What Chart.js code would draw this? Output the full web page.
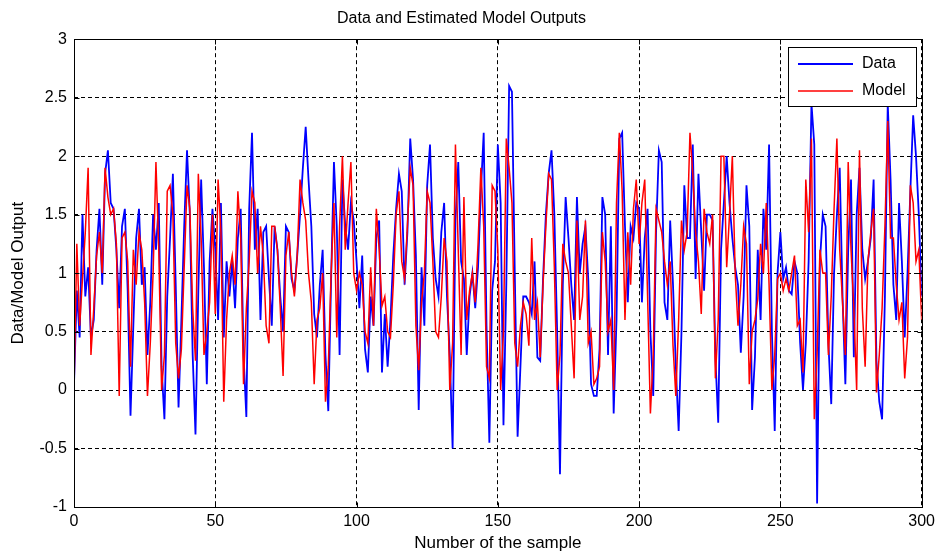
<!DOCTYPE html>
<html>
<head>
<meta charset="utf-8">
<script src="https://cdn.jsdelivr.net/npm/chart.js@4.4.1/dist/chart.umd.min.js"></script>
<style>
  html, body { margin: 0; padding: 0; background: #ffffff; }
  canvas { display: block; }
</style>
</head>
<body>
<canvas id="c" width="940" height="556"></canvas>
<script>
// ---- values (sample 0 .. 300) ----
const dataValues = [
  0.05, 0.85, 0.45, 1.5, 0.8, 1.05, 0.45, 0.6, 1.2, 1.55,
  0.9, 1.85, 2.05, 1.6, 1.55, 1.2, 0.7, 1.4, 1.55, 0.85,
  -0.22, 0.55, 1.3, 1.55, 0.9, 1.05, 0.3, 0.75, 1.5, 1.2,
  1.6, 0.2, -0.25, 0.8, 1.3, 1.85, 0.9, -0.15, 0.6, 1.4,
  2.05, 1.5, 0.3, -0.38, 0.85, 1.8, 1.05, 0.05, 1.1, 1.55,
  1.2, 0.6, 1.6, 0.45, 1.1, 0.8, 1.1, 0.7, 1.3, 1.55,
  0.3, -0.23, 1.55, 2.2, 1.2, 1.55, 0.6, 1.35, 1.4, 0.95,
  0.55, 1.4, 1.2, 0.8, 0.5, 1.4, 1.35, 0.95, 0.85, 1.15,
  1.5, 1.9, 2.25, 1.8, 1.4, 0.65, 0.45, 0.9, 1.2, 0.3,
  -0.18, 0.95, 1.95, 1.4, 0.3, 1.8, 1.4, 1.2, 1.6, 1.45,
  1.1, 0.7, 1.15, 0.35, 0.15, 0.8, 0.55, 1.3, 1.45, 0.15,
  0.65, 0.2, 0.6, 1.15, 1.55, 1.85, 1.7, 0.9, 1.35, 2.15,
  1.8, 1.15, -0.17, 1.05, 0.55, 1.75, 2.1, 1.3, 0.95, 0.8,
  1.35, 1.6, 0.8, 0.3, -0.5, 1.45, 1.95, 1.1, 0.95, 0.3,
  0.8, 1.0, 0.7, 1.05, 1.7, 2.2, 0.55, -0.45, 0.85, 1.1,
  2.1, 1.6, -0.3, 0.9, 2.6, 2.55, 1.0, -0.4, 0.2, 0.8,
  0.8, 0.75, 0.65, 1.1, 0.28, 0.25, 0.95, 1.5, 1.85, 2.05,
  1.5, 0.5, -0.72, 0.9, 1.65, 1.3, 0.9, 0.6, 1.65, 1.0,
  1.25, 1.4, 0.95, 0.05, -0.05, -0.05, 0.35, 1.65, 1.5, 0.3,
  1.4, -0.2, 0.6, 2.15, 2.2, 1.4, 0.75, 1.4, 1.3, 1.6,
  1.55, 0.75, 1.3, 1.55, 0.5, -0.05, 1.35, 2.05, 1.95, 0.75,
  0.6, 1.45, 0.9, 0.2, -0.35, 0.5, 1.75, 1.3, 1.3, 2.1,
  0.95, 1.85, 1.35, 0.85, 1.5, 1.5, 1.45, 0.28, -0.28, 1.2,
  1.6, 2.0, 1.6, 1.3, 1.05, 0.9, 0.32, 0.8, 1.75, 1.4,
  -0.17, 0.28, 1.2, 0.6, 1.55, 1.2, 2.1, 0.5, -0.35, 1.0,
  1.35, 0.95, 1.05, 0.85, 0.82, 1.1, 1.0, 0.4, 0.0, 0.4,
  1.1, 2.45, 2.1, -0.97, 1.1, 1.5, 1.4, 0.4, -0.12, 1.0,
  1.5, 1.9, 0.8, 0.05, 1.2, 1.8, 0.28, 1.5, 1.9, 1.2,
  0.95, 1.1, 1.3, 1.8, 0.25, -0.1, -0.25, 0.8, 2.45, 1.8,
  0.9, 0.6, 1.6, 1.1, 0.45, 1.0, 1.7, 2.35, 2.0, 1.5, 0.8
];
const modelValues = [
  0.0, 1.25, 0.55, 0.95, 1.35, 1.9, 0.3, 0.7, 1.15, 1.35,
  1.0, 1.9, 1.65, 1.5, 1.55, 1.25, -0.05, 1.3, 1.35, 1.1,
  0.2, 1.2, 0.9, 1.35, 1.2, 0.75, -0.05, 0.4, 1.0, 1.95,
  1.2, 0.0, 0.3, 1.7, 1.75, 1.5, 0.4, 0.1, 0.35, 1.05,
  1.75, 1.55, 0.7, 0.25, 1.85, 1.3, 0.3, 0.5, 0.75, 1.5,
  0.65, 1.8, 1.35, -0.1, 0.6, 1.0, 1.15, 0.9, 1.7, 1.3,
  0.05, 0.7, 1.1, 1.7, 1.6, 1.0, 1.4, 1.15, 0.55, 0.4,
  1.4, 1.4, 1.2, 0.7, 0.12, 1.15, 1.35, 1.0, 0.8, 1.15,
  1.8, 1.6, 1.45, 1.0, 0.75, 0.05, 0.6, 0.7, 1.0, -0.1,
  0.2, 1.0, 1.6, 0.45, 1.4, 2.0, 1.2, 1.6, 1.95, 1.0,
  0.85, 1.0, 0.9, 0.5, 0.4, 1.05, 0.55, 1.55, 1.2, 0.72,
  0.8, 0.5, 0.45, 0.9, 1.5, 1.7, 1.1, 0.95, 1.4, 1.9,
  1.75, 0.55, 0.17, 0.75, 1.0, 1.7, 1.6, 1.1, 0.5, 0.45,
  0.8, 1.3, 1.1, 0.0, 0.4, 2.1, 1.2, 0.3, 1.65, 0.6,
  0.85, 1.0, 0.75, 1.25, 1.9, 1.4, 0.2, 0.1, 1.75, 1.7,
  1.2, 0.0, 0.5, 2.15, 1.9, 1.6, 0.4, 0.2, 0.55, 0.75,
  0.65, 0.38, 1.3, 0.6, 0.75, 0.28, 0.9, 1.4, 1.85, 1.8,
  1.05, 0.0, 0.3, 1.25, 1.1, 1.0, 0.55, 0.1, 1.45, 0.6,
  0.8, 1.45, 0.4, 0.5, 0.05, 0.1, 0.2, 1.35, 1.1, 0.5,
  0.6, 0.0, 1.6, 2.2, 1.7, 0.6, 1.35, 0.9, 1.55, 1.8,
  1.25, 1.6, 1.8, 0.8, -0.2, 0.3, 1.55, 1.45, 1.35, 1.1,
  0.9, 1.1, 0.38, -0.05, 0.6, 1.45, 1.2, 1.35, 2.2, 1.85,
  1.35, 1.1, 0.65, 1.55, 1.35, 1.25, 1.5, 0.1, 0.6, 2.0,
  2.0, 1.05, 1.5, 2.0, 1.0, 0.55, 0.9, 1.4, 1.25, 0.05,
  0.5, 0.6, 0.78, 1.25, 1.0, 1.6, 0.9, 0.0, 0.3, 0.95,
  1.0, 0.85, 0.95, 0.85, 1.0, 1.15, 0.55, 0.6, 0.15, 1.8,
  1.35, 2.15, -0.25, 0.3, 1.2, 1.0, 1.0, 0.3, 0.8, 1.55,
  2.15, 1.2, 0.75, 0.3, 1.95, 1.2, 0.7, 0.0, 2.05, 0.7,
  0.2, 1.1, 1.35, 1.55, -0.02, 0.3, 0.7, 1.4, 2.3, 1.3,
  1.3, 0.9, 0.6, 0.75, 0.1, 0.45, 1.75, 1.6, 1.1, 1.2, 0.6
];
const seriesNames = ["Data", "Model"];
const xTickValues = [0, 50, 100, 150, 200, 250, 300];
const yTickValues = [-1, -0.5, 0, 0.5, 1, 1.5, 2, 2.5, 3];
const titleText = "Data and Estimated Model Outputs";
const xTitle = "Number of the sample";
const yTitle = "Data/Model Output";

const FONT = "'Liberation Sans', Arial, Helvetica, sans-serif";

const toPoints = arr => arr.map((v, i) => ({ x: i, y: v }));

// frame, inward tick marks and boxed legend (MATLAB style)
const matlabFrame = {
  id: 'matlabFrame',
  afterDraw(chart) {
    const { ctx, chartArea: a, scales } = chart;
    const L = Math.round(a.left) + 0.5, R = Math.round(a.right) + 0.5;
    const T = Math.round(a.top) + 0.5, B = Math.round(a.bottom) + 0.5;
    ctx.save();
    ctx.strokeStyle = '#000';
    ctx.lineWidth = 1;
    ctx.setLineDash([]);
    ctx.strokeRect(L, T, R - L, B - T);
    const tl = 5;
    ctx.beginPath();
    xTickValues.forEach(v => {
      const px = Math.round(scales.x.getPixelForValue(v)) + 0.5;
      ctx.moveTo(px, B); ctx.lineTo(px, B - tl);
      ctx.moveTo(px, T); ctx.lineTo(px, T + tl);
    });
    yTickValues.forEach(v => {
      const py = Math.round(scales.y.getPixelForValue(v)) + 0.5;
      ctx.moveTo(L, py); ctx.lineTo(L + tl, py);
      ctx.moveTo(R, py); ctx.lineTo(R - tl, py);
    });
    ctx.stroke();

    // legend box
    const bx = 788.5, by = 47.5, bw = 128, bh = 59;
    ctx.fillStyle = '#fff';
    ctx.fillRect(bx, by, bw, bh);
    ctx.strokeRect(bx, by, bw, bh);
    ctx.font = "16px " + FONT;
    ctx.textBaseline = 'middle';
    ctx.textAlign = 'left';
    chart.data.datasets.forEach((ds, i) => {
      const ly = [64, 91][i];
      ctx.strokeStyle = ds.borderColor;
      ctx.lineWidth = i === 0 ? 2 : 1.5;
      ctx.beginPath();
      ctx.moveTo(798, ly); ctx.lineTo(853, ly);
      ctx.stroke();
      ctx.fillStyle = '#000';
      ctx.fillText(ds.label, 862, ly);
    });
    ctx.restore();
  }
};

new Chart(document.getElementById('c'), {
  type: 'line',
  data: {
    datasets: [
      { label: seriesNames[0], data: toPoints(dataValues), borderColor: '#0000ff',
        backgroundColor: '#0000ff', borderWidth: 1.8, pointRadius: 0, tension: 0, order: 2 },
      { label: seriesNames[1], data: toPoints(modelValues), borderColor: '#ff0000',
        backgroundColor: '#ff0000', borderWidth: 1.5, pointRadius: 0, tension: 0, order: 1 }
    ]
  },
  options: {
    responsive: false,
    animation: false,
    devicePixelRatio: 1,
    layout: { padding: { left: 0, right: 17, top: 0, bottom: 0 } },
    plugins: {
      legend: { display: false },
      tooltip: { enabled: false },
      title: {
        display: true, text: titleText, color: '#000',
        font: { family: FONT, size: 16, weight: 'normal', lineHeight: 1.2 },
        padding: { top: 9, bottom: 11 }
      }
    },
    scales: {
      x: {
        type: 'linear', min: 0, max: 300,
        afterBuildTicks: s => { s.ticks = xTickValues.map(v => ({ value: v })); },
        afterFit: s => { s.height = 49; },
        grid: { color: '#000', lineWidth: 1, drawTicks: false },
        border: { display: false, dash: [4, 3] },
        ticks: { color: '#000', padding: 5, maxRotation: 0,
                 font: { family: FONT, size: 16 },
                 callback: v => String(v) },
        title: { display: true, text: xTitle, color: '#000',
                 font: { family: FONT, size: 17 }, padding: { top: 0, bottom: 2 } }
      },
      y: {
        type: 'linear', min: -1, max: 3,
        afterBuildTicks: s => { s.ticks = yTickValues.map(v => ({ value: v })); },
        afterFit: s => { s.width = 74; },
        grid: { color: '#000', lineWidth: 1, drawTicks: false },
        border: { display: false, dash: [4, 3] },
        ticks: { color: '#000', padding: 7, font: { family: FONT, size: 16 },
                 callback: v => String(v) },
        title: { display: true, text: yTitle, color: '#000',
                 font: { family: FONT, size: 17 }, padding: { top: 8, bottom: 0 } }
      }
    }
  },
  plugins: [matlabFrame]
});
</script>
</body>
</html>
